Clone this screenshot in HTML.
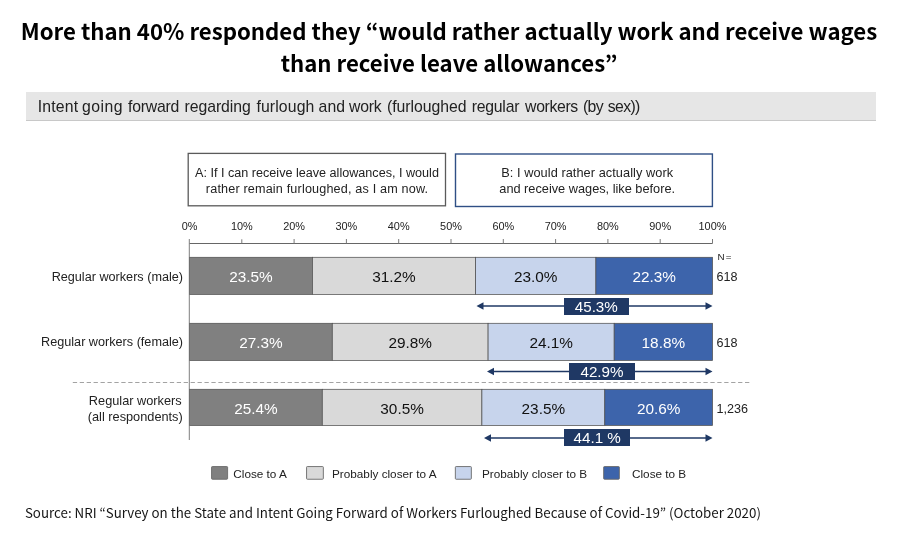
<!DOCTYPE html>
<html lang="en">
<head>
<meta charset="utf-8">
<title>Intent going forward regarding furlough and work</title>
<style>
html,body{margin:0;padding:0;background:#fff;}
body{width:900px;height:542px;position:relative;overflow:hidden;color:#1a1a1a;
  font-family:"Liberation Sans","Noto Sans CJK JP",sans-serif;}
.abs{position:absolute;white-space:nowrap;}
.title{left:-1px;top:14.8px;width:900px;text-align:center;font-family:"Noto Sans CJK JP","Liberation Sans",sans-serif;
  font-weight:700;font-size:22.2px;line-height:31.8px;color:#000;}
.sub{left:26px;top:92px;width:850px;height:28px;background:#e6e6e6;border-bottom:1px solid #c8c8c8;}
.subt{left:37px;top:98.3px;font-size:15.79px;line-height:18px;color:#222;}
.subt .w{position:absolute;top:0;}
.box{text-align:center;font-size:12.7px;line-height:16px;color:#222;width:260px;}
.boxA{left:187px;top:164.6px;font-size:12.62px;}
.boxB{left:457.2px;top:164.6px;font-size:12.75px;}
.ax{font-size:10.9px;line-height:12px;width:40px;text-align:center;top:220.3px;color:#222;}
.rl{font-size:12.65px;line-height:15.6px;text-align:right;width:170px;left:13px;color:#222;}
.bl{font-size:15.35px;line-height:18px;text-align:center;color:#111;}
.bl.w{color:#fff;}
.n{font-size:12.6px;line-height:14px;left:716.5px;color:#222;}
.tot{background:#1f3864;color:#fff;font-size:15.2px;line-height:17px;height:17px;text-align:center;}
.lg{font-size:11.75px;line-height:14px;top:466.6px;color:#222;}
.src{left:24.9px;top:503.3px;font-family:"Noto Sans CJK JP","Liberation Sans",sans-serif;font-size:13.33px;line-height:20px;color:#151515;}
svg{position:absolute;left:0;top:0;}
</style>
</head>
<body>
<div class="abs title">More than 40% responded they “would rather actually work and receive wages<br>than receive leave allowances”</div>
<div class="abs sub"></div>
<div class="abs subt"><span class="w" style="left:0.7px;letter-spacing:0.2px">Intent</span> <span class="w" style="left:45.1px;letter-spacing:0.48px">going</span> <span class="w" style="left:91.0px;letter-spacing:-0.22px">forward</span> <span class="w" style="left:147.6px;letter-spacing:-0.07px">regarding</span> <span class="w" style="left:219.4px;letter-spacing:0.13px">furlough</span> <span class="w" style="left:281.6px;letter-spacing:0.05px">and</span> <span class="w" style="left:312.1px;letter-spacing:-0.27px">work</span> <span class="w" style="left:350.0px;letter-spacing:-0.04px">(furloughed</span> <span class="w" style="left:434.7px;letter-spacing:-0.23px">regular</span> <span class="w" style="left:488.1px;letter-spacing:-0.35px">workers</span> <span class="w" style="left:546.0px;letter-spacing:-0.65px">(by</span> <span class="w" style="left:570.7px;letter-spacing:-0.6px">sex))</span></div>


<svg width="900" height="542" viewBox="0 0 900 542">
  <!-- boxes -->
  <rect x="188.2" y="153.4" width="257.3" height="52.4" fill="#fff" stroke="#5a5a5a" stroke-width="1.3"/>
  <rect x="455.5" y="154" width="256.9" height="52.5" fill="#fff" stroke="#2f4f85" stroke-width="1.4"/>
  <!-- bars -->
  <g stroke="#505050" stroke-width="0.75">
    <rect x="189.5" y="257.3" width="122.9" height="37.1" fill="#808080"/>
    <rect x="312.4" y="257.3" width="163.2" height="37.1" fill="#d9d9d9"/>
    <rect x="475.6" y="257.3" width="120.3" height="37.1" fill="#c7d4ec"/>
    <rect x="595.9" y="257.3" width="116.6" height="37.1" fill="#3d64ab"/>

    <rect x="189.5" y="323.3" width="142.8" height="37.1" fill="#808080"/>
    <rect x="332.3" y="323.3" width="155.8" height="37.1" fill="#d9d9d9"/>
    <rect x="488.1" y="323.3" width="126.1" height="37.1" fill="#c7d4ec"/>
    <rect x="614.2" y="323.3" width="98.3" height="37.1" fill="#3d64ab"/>

    <rect x="189.5" y="389.3" width="132.8" height="36.1" fill="#808080"/>
    <rect x="322.3" y="389.3" width="159.6" height="36.1" fill="#d9d9d9"/>
    <rect x="481.9" y="389.3" width="122.9" height="36.1" fill="#c7d4ec"/>
    <rect x="604.8" y="389.3" width="107.7" height="36.1" fill="#3d64ab"/>
  </g>
  <!-- axis -->
  <g stroke="#666" stroke-width="1" fill="none">
    <path d="M189.5 243.5H712.5"/>
    <path d="M189.3 239V440" stroke="#707070" stroke-width="0.9"/>
    <path stroke="#7a7a7a" d="M241.8 239.3v4.2M294.1 239v4.5M346.4 239v4.5M398.7 239v4.5M451 239v4.5M503.3 239v4.5M555.6 239v4.5M607.9 239v4.5M660.2 239v4.5M712.5 239v4.5"/>
  </g>
  <path d="M72.8 382.5H749.4" stroke="#999" stroke-width="0.9" stroke-dasharray="4.3 2.63" fill="none"/>
  <!-- arrows -->
  <g stroke="#1f3864" stroke-width="1.6" fill="#1f3864">
    <path d="M481 306H708" />
    <path d="M476.5 306l7-3.8v7.6z M712.5 306l-7-3.8v7.6z" stroke="none"/>
    <path d="M491 371.5H708" />
    <path d="M487 371.5l7-3.8v7.6z M712.5 371.5l-7-3.8v7.6z" stroke="none"/>
    <path d="M488 438H708" />
    <path d="M484 438l7-3.8v7.6z M712.5 438l-7-3.8v7.6z" stroke="none"/>
  </g>
  <!-- legend swatches -->
  <g stroke="#6a6a6a" stroke-width="0.9">
    <rect x="211.55" y="466.55" width="16.05" height="12.7" rx="0.8" fill="#808080"/>
    <rect x="306.55" y="466.55" width="16.80" height="12.7" rx="0.8" fill="#d9d9d9"/>
    <rect x="455.35" y="466.55" width="16.00" height="12.7" rx="0.8" fill="#c7d4ec"/>
    <rect x="603.65" y="466.55" width="15.70" height="12.7" rx="0.8" fill="#3d64ab"/>
  </g>
</svg>

<div class="abs box boxA">A: If I can receive leave allowances, I would<br><span style="letter-spacing:0.17px">rather remain furloughed, as I am now.</span></div>
<div class="abs box boxB"><span style="letter-spacing:0.06px">B: I would rather actually work</span><br>and receive wages, like before.</div>

<!-- axis labels -->
<div class="abs ax" style="left:169.5px">0%</div>
<div class="abs ax" style="left:221.8px">10%</div>
<div class="abs ax" style="left:274.1px">20%</div>
<div class="abs ax" style="left:326.4px">30%</div>
<div class="abs ax" style="left:378.7px">40%</div>
<div class="abs ax" style="left:431px">50%</div>
<div class="abs ax" style="left:483.3px">60%</div>
<div class="abs ax" style="left:535.6px">70%</div>
<div class="abs ax" style="left:587.9px">80%</div>
<div class="abs ax" style="left:640.2px">90%</div>
<div class="abs ax" style="left:692.5px">100%</div>

<!-- row labels -->
<div class="abs rl" style="top:270.2px">Regular workers (male)</div>
<div class="abs rl" style="top:335.2px">Regular workers (female)</div>
<div class="abs rl" style="top:393px;left:85.25px;width:100px;text-align:center;font-size:12.75px">Regular workers<br>(all respondents)</div>

<!-- bar labels -->
<div class="abs bl w" style="left:189.5px;width:122.9px;top:268.4px">23.5%</div>
<div class="abs bl" style="left:312.4px;width:163.2px;top:268.4px">31.2%</div>
<div class="abs bl" style="left:475.6px;width:120.3px;top:268.4px">23.0%</div>
<div class="abs bl w" style="left:595.9px;width:116.6px;top:268.4px">22.3%</div>

<div class="abs bl w" style="left:189.5px;width:142.8px;top:334.2px">27.3%</div>
<div class="abs bl" style="left:332.3px;width:155.8px;top:334.2px">29.8%</div>
<div class="abs bl" style="left:488.1px;width:126.1px;top:334.2px">24.1%</div>
<div class="abs bl w" style="left:614.2px;width:98.3px;top:334.2px">18.8%</div>

<div class="abs bl w" style="left:189.5px;width:132.8px;top:399.8px">25.4%</div>
<div class="abs bl" style="left:322.3px;width:159.6px;top:399.8px">30.5%</div>
<div class="abs bl" style="left:481.9px;width:122.9px;top:399.8px">23.5%</div>
<div class="abs bl w" style="left:604.8px;width:107.7px;top:399.8px">20.6%</div>

<!-- N -->
<div class="abs" style="left:717.4px;top:251.9px;font-size:9.8px;line-height:10px;color:#222;letter-spacing:1.25px">N=</div>
<div class="abs n" style="top:270px">618</div>
<div class="abs n" style="top:335.8px">618</div>
<div class="abs n" style="top:401.6px">1,236</div>

<!-- totals -->
<div class="abs tot" style="left:563.6px;top:297.5px;width:65.4px">45.3%</div>
<div class="abs tot" style="left:569px;top:363px;width:66px">42.9%</div>
<div class="abs tot" style="left:564.2px;top:429.2px;width:66px">44.1 %</div>

<!-- legend -->
<div class="abs lg" style="left:233.3px">Close to A</div>
<div class="abs lg" style="left:332px">Probably closer to A</div>
<div class="abs lg" style="left:482px">Probably closer to B</div>
<div class="abs lg" style="left:632px">Close to B</div>

<div class="abs src">Source: NRI “Survey on the State and Intent Going Forward of Workers Furloughed Because of Covid-19” (October 2020)</div>
</body>
</html>
